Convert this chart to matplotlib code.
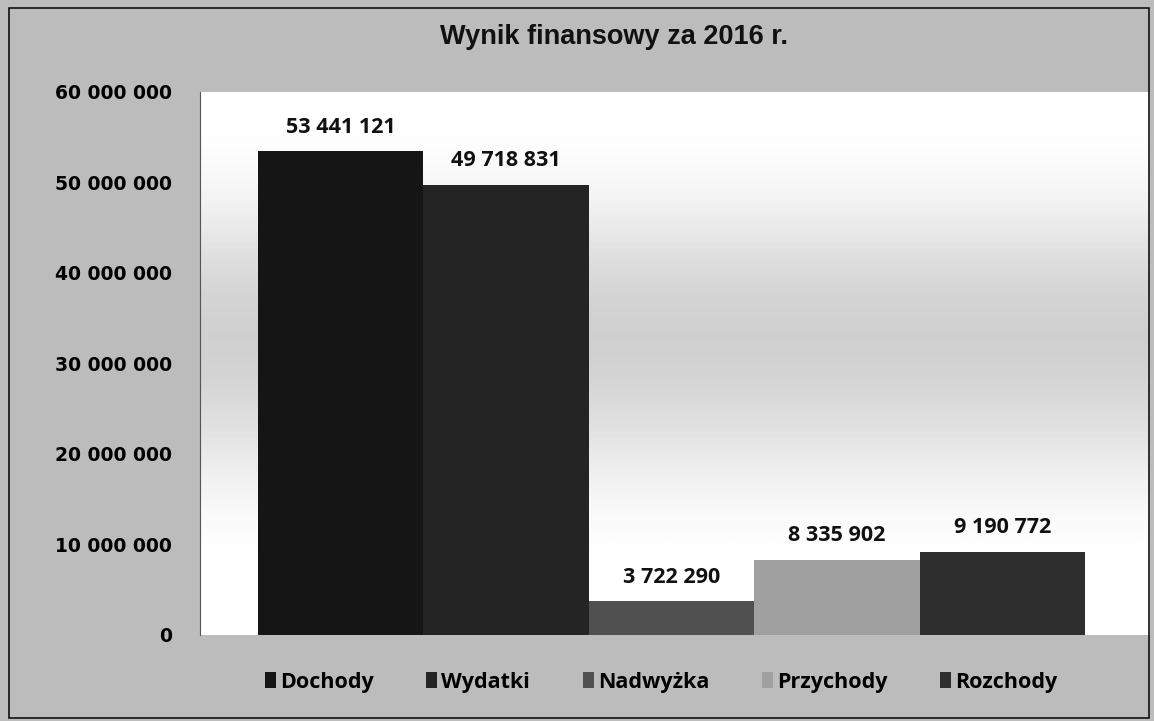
import numpy as np
import matplotlib
matplotlib.use("Agg")
import matplotlib.pyplot as plt
from matplotlib.patches import Rectangle

categories = ["Dochody", "Wydatki", "Nadwyżka", "Przychody", "Rozchody"]
values = [53441121, 49718831, 3722290, 8335902, 9190772]
colors = ["#151515", "#242424", "#505050", "#a0a0a0", "#2e2e2e"]
yticks = [0, 10000000, 20000000, 30000000, 40000000, 50000000, 60000000]


def fmt(v):
    return "{:,}".format(int(v)).replace(",", " ")


fig = plt.figure(figsize=(11.54, 7.21), dpi=100, facecolor="#bcbcbc")
ax = fig.add_axes([0.1733, 0.1193, 0.823, 0.7531])

# soft vertical gradient of the plot area (white - grey band - white)
grad = np.array([1.0, 0.97, 0.86, 0.80, 0.84, 0.93, 1.0, 1.0]).reshape(-1, 1)
ax.imshow(grad, cmap="gray", vmin=0, vmax=1, aspect="auto",
          extent=(-0.85, 4.89, 0, 60000000), zorder=0, interpolation="bicubic")

x = np.arange(len(categories))
bars = ax.bar(x, values, width=1.0, color=colors, edgecolor="none", zorder=2)
for i, b in enumerate(bars):
    b.set_label(categories[i])
    ax.text(b.get_x() + b.get_width() / 2, values[i] + 1500000, fmt(values[i]),
            ha="center", va="bottom", fontsize=15.5, fontweight="bold",
            family="Open Sans", color="#111111", zorder=3)

ax.set_xlim(-0.85, 4.89)
ax.set_ylim(0, 60000000)
ax.set_yticks(yticks)
ax.set_yticklabels([fmt(t) for t in yticks], fontsize=13.5, fontweight="bold",
                   family="DejaVu Sans")
ax.set_xticks([])
ax.tick_params(axis="y", length=0, pad=20)
for s in ["top", "right", "bottom"]:
    ax.spines[s].set_visible(False)
ax.spines["left"].set_color("#555555")
ax.spines["left"].set_linewidth(0.8)

fig.text(0.532, 0.949, "Wynik finansowy za 2016 r.", ha="center", va="center",
         fontsize=19.5, fontweight="bold", family="Liberation Sans", color="#111111")

leg = fig.legend(handles=list(bars), labels=categories, loc="center",
                 bbox_to_anchor=(0.573, 0.054), ncol=5, frameon=False,
                 handlelength=0.5, handleheight=0.7, handletextpad=0.2,
                 columnspacing=2.45,
                 prop={"family": "Open Sans", "weight": "bold", "size": 15.5})

# outer border of the scanned chart
fig.patches.append(Rectangle((0.008, 0.004), 0.988, 0.985, transform=fig.transFigure,
                             fill=False, edgecolor="#111111", linewidth=1.2))

fig.savefig("out.png", dpi=100, facecolor=fig.get_facecolor())
